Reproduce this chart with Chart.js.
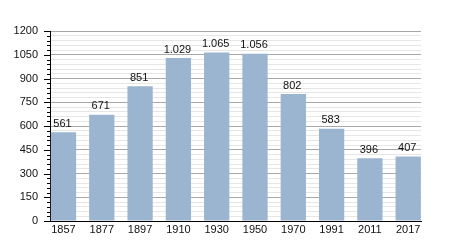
<!DOCTYPE html>
<html><head><meta charset="utf-8">
<script src="https://cdn.jsdelivr.net/npm/chart.js@4/dist/chart.umd.min.js"></script>
<style>html,body{margin:0;padding:0;background:#fff;}canvas{display:block;}</style>
</head><body>
<canvas id="c" width="450" height="250"></canvas>
<script>
const years = ['1857','1877','1897','1910','1930','1950','1970','1991','2011','2017'];
const population = [561, 671, 851, 1029, 1065, 1056, 802, 583, 396, 407];
const yMax = 1200;
const majorStep = 150;
const minorStep = 30;

const FONT = 'Liberation Sans, Arial, sans-serif';
function fmt(v){ return String(v).replace(/\B(?=(\d{3})+(?!\d))/g, '.'); }

const extras = {
  id: 'extras',
  afterDraw(chart){
    const ctx = chart.ctx, y = chart.scales.y;
    const left = chart.chartArea.left;
    ctx.save();
    ctx.strokeStyle = '#000'; ctx.lineWidth = 1;
    for (let v = 0; v <= yMax; v += minorStep) {
      const py = Math.round(y.getPixelForValue(v)) + 0.5;
      const len = (v % majorStep === 0) ? 6 : 3;
      ctx.beginPath(); ctx.moveTo(left - len, py); ctx.lineTo(left, py); ctx.stroke();
    }
    ctx.fillStyle = '#111';
    ctx.font = '11px ' + FONT;
    ctx.textAlign = 'center'; ctx.textBaseline = 'bottom';
    chart.getDatasetMeta(0).data.forEach((bar, i) => {
      ctx.fillText(fmt(population[i]), bar.x - 1, bar.y - 3);
    });
    ctx.restore();
  }
};

new Chart(document.getElementById('c'), {
  type: 'bar',
  data: { datasets: [{ data: population.map((v, i) => ({ x: i, y: v })), backgroundColor: '#9bb4cf', borderWidth: 0,
    barPercentage: 0.66, categoryPercentage: 1.0 }] },
  options: {
    responsive: false, animation: false,
    layout: { padding: { left: 0, top: 31, right: 29, bottom: 0 } },
    plugins: { legend: { display: false }, tooltip: { enabled: false } },
    scales: {
      x: {
        type: 'linear', min: -0.352, max: 9.334, offset: false,
        afterFit(s){ s.height = 29; },
        afterBuildTicks(s){ s.ticks = years.map((_, i) => ({ value: i })); },
        grid: { display: false, drawTicks: false },
        border: { color: '#000', width: 1 },
        ticks: { color: '#111', font: { family: FONT, size: 11 }, padding: 2, maxRotation: 0, autoSkip: false,
          callback: v => years[v] }
      },
      y: {
        min: 0, max: yMax,
        afterFit(s){ s.width = 50; },
        afterBuildTicks(s){ const t=[]; for(let v=0; v<=yMax; v+=minorStep) t.push({value:v}); s.ticks=t; },
        grid: { drawTicks: false,
          color: c => (c.tick && c.tick.value % majorStep === 0) ? '#a8a8a8' : '#e6e6e6',
          lineWidth: 1 },
        border: { color: '#000', width: 1 },
        ticks: { color: '#111', font: { family: FONT, size: 11 }, padding: 12, autoSkip: false,
          callback: v => (v % majorStep === 0) ? String(v) : '' }
      }
    }
  },
  plugins: [extras]
});
</script>
</body></html>
